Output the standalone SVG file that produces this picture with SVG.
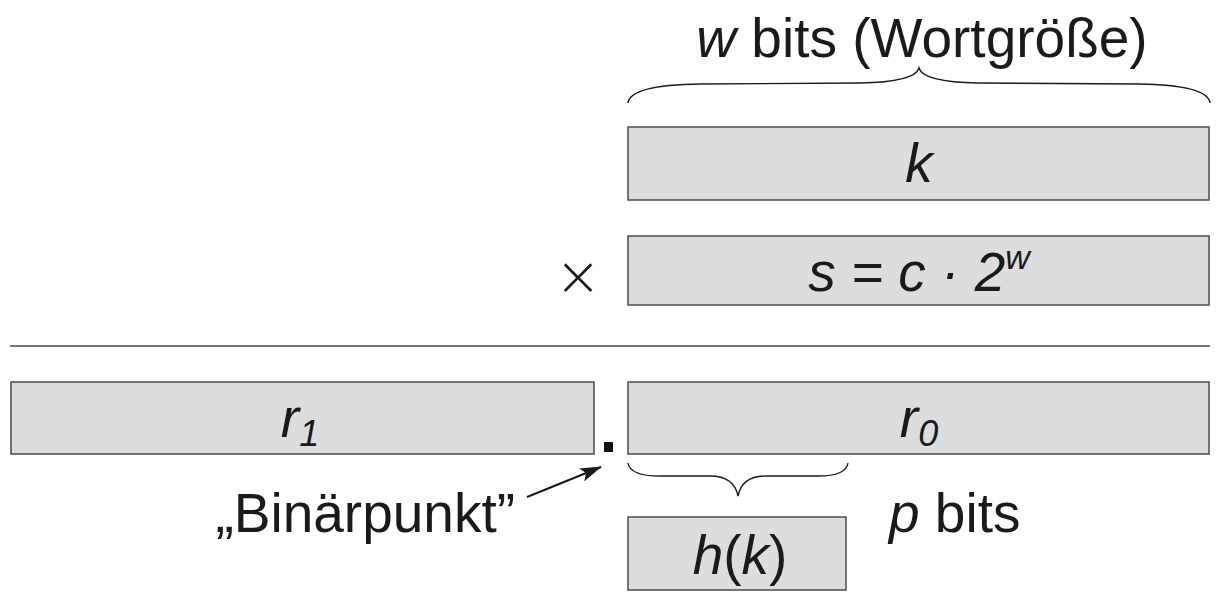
<svg xmlns="http://www.w3.org/2000/svg" width="1216" height="595" viewBox="0 0 1216 595">
<style>
.box{fill:#dcdddf;stroke:#4a4a4a;stroke-width:1.5}
.t{font-family:"Liberation Sans",Arial,sans-serif;font-size:55px;fill:#1a1a1a}
.i{font-style:italic}
.br{fill:none;stroke:#1a1a1a;stroke-width:1.4}
</style>
<defs>
<marker id="ah" markerWidth="22" markerHeight="14" refX="21" refY="7" orient="auto" markerUnits="userSpaceOnUse">
<path d="M0,0 L22,7 L0,14 L5,7 Z" fill="#1a1a1a"/>
</marker>
</defs>
<rect width="1216" height="595" fill="#fff"/>
<g id="title"><text class="t" x="922" y="57" text-anchor="middle"><tspan class="i">w</tspan> bits (Wortgröße)</text></g>
<g id="brace-w"><path class="br" d="M628,103 Q630,85 700,84 L860,83 Q915,82 919,68 Q923,82 978,83 L1138,84 Q1208,85 1210,103"/></g>
<g id="k"><rect class="box" x="628" y="127" width="581" height="73"/><text class="t i" x="919" y="182" text-anchor="middle">k</text></g>
<g id="times"><text class="t" x="578" y="295" text-anchor="middle" font-size="62" font-weight="normal" style="font-family:'DejaVu Sans',sans-serif;font-weight:200">×</text></g>
<g id="s"><rect class="box" x="628" y="236" width="581" height="69"/><text class="t i" x="919" y="291" text-anchor="middle">s = c · 2<tspan font-size="34" dy="-22">w</tspan></text></g>
<g id="rule"><line x1="10" y1="346" x2="1210" y2="346" stroke="#4a4a4a" stroke-width="1.5"/></g>
<g id="r1"><rect class="box" x="11" y="382" width="583" height="72"/><text class="t i" x="300" y="437" text-anchor="middle">r<tspan font-size="36" dy="9">1</tspan></text></g>
<g id="dot"><rect x="604" y="442" width="9" height="10" fill="#111"/></g>
<g id="r0"><rect class="box" x="628" y="382" width="581" height="72"/><text class="t i" x="919" y="437" text-anchor="middle">r<tspan font-size="36" dy="9">0</tspan></text></g>
<g id="brace-p"><path class="br" d="M628,463 Q630,476 660,476 L710,476 Q734,476 738,496 Q742,476 766,476 L818,476 Q846,476 848,463"/></g>
<g id="hk"><rect class="box" x="628" y="517" width="218" height="73"/><text class="t" x="740" y="574" text-anchor="middle"><tspan class="i">h</tspan>(<tspan class="i">k</tspan>)</text></g>
<g id="pbits"><text class="t" x="889" y="532"><tspan class="i">p</tspan> bits</text></g>
<g id="binaer"><text class="t" x="515" y="532" text-anchor="end">„Binärpunkt”</text></g>
<g id="connectors"><line x1="527" y1="497" x2="601" y2="467" stroke="#1a1a1a" stroke-width="2.2" marker-end="url(#ah)"/></g>
</svg>
